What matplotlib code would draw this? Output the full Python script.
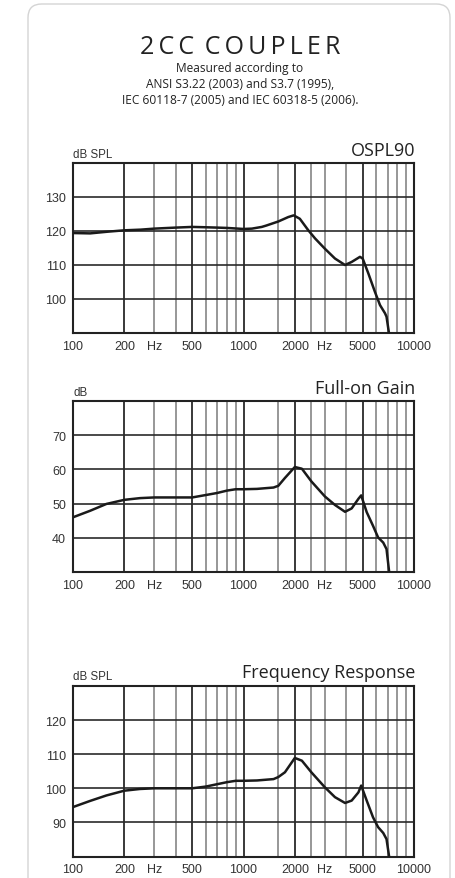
import matplotlib
matplotlib.use('Agg')
import matplotlib.pyplot as plt
from matplotlib.patches import FancyBboxPatch

# readings
ospl_freq = [100, 126, 160, 200, 250, 300, 400, 500, 600, 700, 800, 1000, 1120, 1280,
             1360, 1600, 1830, 1970, 2140, 2400, 2630, 3000, 3440, 3940, 4310, 4820,
             5000, 5400, 5900, 6320, 6760, 6900, 7180]
ospl_db = [119.4, 119.3, 119.8, 120.2, 120.4, 120.7, 121.0, 121.2, 121.1, 121.0, 120.9,
           120.6, 120.7, 121.2, 121.6, 122.8, 124.1, 124.6, 123.6, 120.2, 117.8, 114.8,
           111.9, 110.0, 110.9, 112.4, 111.9, 107.5, 102.1, 98.2, 95.8, 94.8, 89.0]

resp_freq = [100, 126, 157, 200, 247, 300, 400, 500, 600, 700, 800, 900, 1000, 1200,
             1500, 1600, 1750, 2000, 2200, 2500, 3000, 3440, 3940, 4310, 4720, 4900,
             5280, 5750, 6160, 6600, 6900, 7170]
gain_db = [46.0, 47.9, 49.9, 51.1, 51.6, 51.8, 51.8, 51.8, 52.5, 53.1, 53.8, 54.2, 54.2,
           54.3, 54.7, 55.2, 57.5, 60.7, 60.2, 56.5, 52.1, 49.6, 47.6, 48.6, 51.4, 52.4,
           47.5, 43.5, 40.1, 38.6, 36.7, 29.5]
fr_db = [94.5, 96.3, 97.9, 99.3, 99.8, 100.0, 100.0, 100.0, 100.5, 101.2, 101.8, 102.2,
         102.2, 102.3, 102.7, 103.3, 104.7, 108.9, 108.1, 104.7, 100.3, 97.4, 95.7, 96.4,
         98.8, 100.8, 96.4, 91.5, 88.6, 86.9, 85.1, 79.5]

grid_freqs = [200, 300, 400, 500, 600, 700, 800, 900, 1000, 1600, 2000, 2500, 3000,
              4000, 5000, 6000, 7000, 8000, 9000]
major_freqs = [200, 500, 1000, 2000, 5000]
xtick_pos = [100, 200, 300, 500, 1000, 2000, 3000, 5000, 10000]
xtick_labels = ['100', '200', 'Hz', '500', '1000', '2000', 'Hz', '5000', '10000']

panels = [
    ('OSPL90', 'dB SPL', ospl_freq, ospl_db, (90, 140), [100, 110, 120, 130]),
    ('Full-on Gain', 'dB', resp_freq, gain_db, (30, 80), [40, 50, 60, 70]),
    ('Frequency Response', 'dB SPL', resp_freq, fr_db, (80, 130), [90, 100, 110, 120]),
]

W, H = 455, 879
tick_font = ['Liberation Sans Narrow', 'Liberation Sans', 'DejaVu Sans']
head_font = ['Open Sans', 'DejaVu Sans']

fig = plt.figure(figsize=(W / 100, H / 100), dpi=100)

card = FancyBboxPatch((28 / W, -0.05), (450 - 28) / W, 1.05 - 5 / H,
                      boxstyle='round,pad=0,rounding_size=0.03',
                      transform=fig.transFigure, facecolor='white',
                      edgecolor='#d4d4d4', linewidth=1.0, mutation_aspect=W / H,
                      zorder=-5)
fig.patches.append(card)

cx = 240 / W
title = '\u2009'.join('2CC') + ' \u2009' + '\u2009'.join('COUPLER')
fig.text(cx, 1 - 53.5 / H, title, ha='center', va='baseline',
         fontsize=18, family=head_font, color='#222222')
sub = ['Measured according to',
       'ANSI S3.22 (2003) and S3.7 (1995),',
       'IEC 60118-7 (2005) and IEC 60318-5 (2006).']
for line, base in zip(sub, [71.7, 88.3, 104]):
    fig.text(cx, 1 - base / H, line, ha='center', va='baseline', fontsize=8.6,
             family=head_font, color='#222222')

# top, bottom in pixels for each panel
boxes = [(164, 334), (402, 573), (687, 857.5)]

for (name, unit, fx, fy, ylim, yticks), (top, bot) in zip(panels, boxes):
    ax = fig.add_axes([73 / W, 1 - bot / H, 341 / W, (bot - top) / H])
    ax.set_xscale('log')
    ax.set_xlim(100, 10000)
    ax.set_ylim(*ylim)
    for f in grid_freqs:
        if f in major_freqs:
            ax.axvline(f, color='#2a2a2a', lw=1.3, zorder=1)
        else:
            ax.axvline(f, color='#7a7a7a', lw=1.1, zorder=1)
    for v in yticks:
        ax.axhline(v, color='#2a2a2a', lw=1.2, zorder=1)
    ax.plot(fx, fy, color='#1a1a1a', lw=1.8, zorder=3, solid_joinstyle='round')

    ax.minorticks_off()
    ax.set_xticks(xtick_pos)
    ax.set_xticklabels(xtick_labels)
    ax.set_yticks(yticks)
    ax.tick_params(length=0, labelsize=9, colors='#333333', pad=5)
    for lab in ax.get_xticklabels() + ax.get_yticklabels():
        lab.set_family(tick_font)
    for s in ax.spines.values():
        s.set_linewidth(1.5)
        s.set_color('#222222')

    h = bot - top
    ax.text(0, 1 + 6.5 / h, unit, transform=ax.transAxes, ha='left', va='baseline',
            fontsize=8.3, family=tick_font, color='#333333')
    ax.text(1.005, 1 + 8.5 / h, name, transform=ax.transAxes, ha='right',
            va='baseline', fontsize=13, family=head_font, color='#222222')

fig.savefig('out.png', dpi=100, facecolor='white')
